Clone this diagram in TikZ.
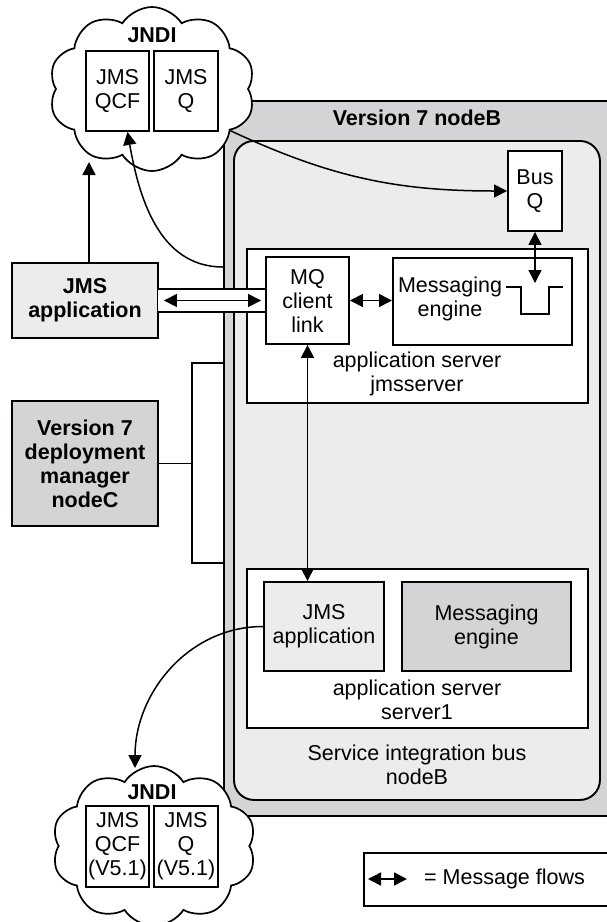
\documentclass[tikz,border=0pt]{standalone}
\usepackage{fontspec}
\setmainfont{Liberation Sans}
\usepackage{tikz}
\usetikzlibrary{arrows.meta,shapes.symbols}

\definecolor{darkfill}{RGB}{211,212,214}
\definecolor{lightfill}{RGB}{236,236,236}

\begin{document}
\begin{tikzpicture}[x=1pt, y=-1pt,
    font=\fontsize{21.5}{24}\selectfont,
    bold/.style={font=\fontsize{21.5}{24}\selectfont\bfseries},
    box/.style={draw, line width=1.9pt, inner sep=0pt, align=center},
    txt/.style={align=center, inner sep=0pt},
    jndi/.style={cloud, draw, fill=white, line width=1.7pt, cloud puffs=10,
        cloud puff arc=115, aspect=1.2, inner sep=0pt},
    flow/.style={line width=1.5pt, {Triangle[length=13pt,width=13pt]}-{Triangle[length=13pt,width=13pt]}},
    link/.style={line width=1.5pt, -{Triangle[length=13pt,width=13pt]}}]
    \path[use as bounding box, clip] (0,0) rectangle (607,922);

    % node B and the bus inside it
    \node[box, fill=darkfill, minimum width=400pt, minimum height=715pt, anchor=north west] (nodeB) at (223,100) {};
    \node[bold, txt] (nodeBtitle) at (417,118) {Version 7 nodeB};
    \node[box, fill=lightfill, rounded corners=20pt, minimum width=366pt, minimum height=659pt, anchor=north west] (sib) at (233,140) {};
    \node[txt] (sibtitle) at (417,765) {Service integration bus\\nodeB};
    \node[box, fill=white, minimum width=54pt, minimum height=80pt] (busQ) at (535,191) {Bus\\Q};

    % jmsserver
    \node[box, fill=white, minimum width=341pt, minimum height=154pt, anchor=north west] (jmsserver) at (246,248) {};
    \node[txt] (jmsserverTitle) at (417,374) {application server\\jmsserver};
    \node[box, fill=white, minimum width=179pt, minimum height=87pt, anchor=north west] (meTop) at (392,257) {};
    \node[txt] (meTopText) at (450,299) {Messaging\\engine};
    \draw[line width=1.9pt] (506,287) -- (521,287) -- (521,314) -- (549,314) -- (549,287) -- (563,287);
    \coordinate (queue) at (535,283);

    % server1
    \node[box, fill=white, minimum width=341pt, minimum height=159pt, anchor=north west] (server1) at (246,568) {};
    \node[txt] (server1Title) at (417,700) {application server\\server1};
    \node[box, fill=lightfill, minimum width=120pt, minimum height=89pt] (jmsApp) at (324,626.5) {JMS\\application};
    \node[box, fill=darkfill, minimum width=169pt, minimum height=89pt] (meBot) at (486.5,626.5) {Messaging\\engine};

    % left side
    \node[box, bold, fill=lightfill, minimum width=146pt, minimum height=75pt] (jmsClient) at (85,300.5) {JMS\\application};
    \node[box, bold, fill=darkfill, minimum width=146pt, minimum height=125pt] (dmgr) at (85,463.5) {Version 7\\deployment\\manager\\nodeC};
    \coordinate (bracket) at (192,463.5);
    \coordinate (brTop) at (192,363);
    \coordinate (brBot) at (192,563);
    \draw[line width=1.4pt] (dmgr.east) -- (bracket);
    \draw[line width=1.4pt] (brTop -| nodeB.west) -- (brTop) -- (brBot) -- (brBot -| nodeB.west);

    % client link channel
    \fill[white] (158,289) rectangle (266,312);
    \draw[line width=1.9pt] (158,289) -- (266,289) (158,312) -- (266,312);
    \node[box, fill=white, minimum width=83pt, minimum height=87pt] (mqlink) at (307.5,300.5) {MQ\\client\\link};

    % JNDI clouds
    \node[jndi, minimum width=206pt, minimum height=164pt] (jndiTop) at (152,89) {};
    \node[bold, txt] (jndiTopTitle) at (152,35) {JNDI};
    \node[box, fill=white, minimum width=63pt, minimum height=80pt] (qcfTop) at (117.5,91) {JMS\\QCF};
    \node[box, fill=white, minimum width=64pt, minimum height=80pt] (qTop) at (186,91) {JMS\\Q};

    \node[jndi, minimum width=204pt, minimum height=160pt] (jndiBot) at (154,846) {};
    \node[bold, txt] (jndiBotTitle) at (152,792) {JNDI};
    \node[box, fill=white, minimum width=63pt, minimum height=81pt] (qcfBot) at (117.5,846.5) {JMS\\QCF\\(V5.1)};
    \node[box, fill=white, minimum width=64pt, minimum height=81pt] (qBot) at (186,846.5) {JMS\\Q\\(V5.1)};

    % connectors
    \coordinate (jndiTopIn) at (89,162);
    \coordinate (jndiBotIn) at (135,768);
    \draw[link] ([xshift=4pt]jmsClient.north) -- (jndiTopIn);
    \draw[link] ([yshift=-167pt]nodeB.north west) to[out=180, in=-80] ([xshift=10pt]qcfTop.south);
    \draw[link] (jndiTop.-28) to[out=-25, in=180] (busQ.west);
    \draw[link] (jmsApp.west) to[out=180, in=90] (jndiBotIn);
    \draw[flow] (busQ.south) -- (queue);
    \draw[flow] (mqlink.east) -- (meTop.west |- mqlink.east);
    \draw[flow] (mqlink.south) -- (mqlink.south |- jmsApp.north);
    \draw[flow] ([xshift=5pt]jmsClient.east) -- ([xshift=-4pt]mqlink.west);

    % legend
    \node[box, fill=white, minimum width=260pt, minimum height=53pt, anchor=north west] (legend) at (363,852) {};
    \coordinate (legA) at (368,879);
    \coordinate (legB) at (407,879);
    \draw[flow] (legA) -- (legB);
    \node[txt, anchor=west] (legText) at (424,879) {= Message flows};
\end{tikzpicture}
\end{document}
